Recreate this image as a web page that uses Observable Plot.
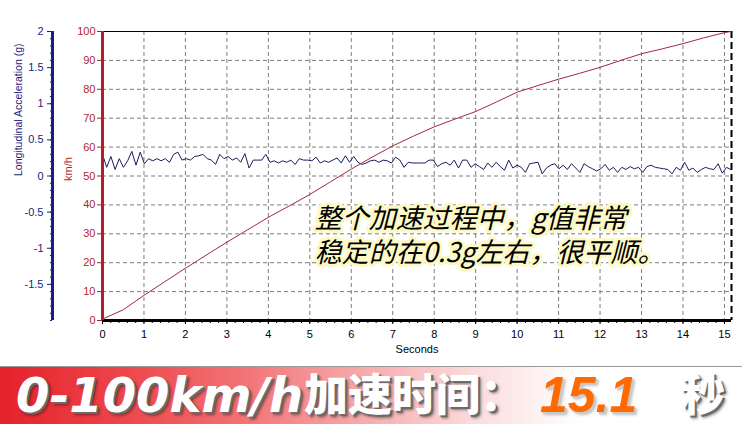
<!DOCTYPE html>
<html><head><meta charset="utf-8">
<script src="https://cdn.jsdelivr.net/npm/d3@7"></script>
<script src="https://cdn.jsdelivr.net/npm/@observablehq/plot@0.6"></script>
<style>
html,body{margin:0;padding:0;background:#fff;width:742px;height:424px;overflow:hidden}
#chart svg{display:block}
#banner{position:relative;width:742px;height:57px;border-top:1px solid #9a9a9a;
  background:linear-gradient(to right,#e4222a 0%,#ec4449 16%,#f27476 33%,#f7aeb0 50%,#fbdcdc 64%,#ffffff 78%,#ffffff 100%)}
#banner span{position:absolute;white-space:nowrap;display:block;height:50px;line-height:50px;top:3px}
#banner span.bc{top:0}
.bl{font-family:"DejaVu Sans",sans-serif;font-weight:bold;font-style:italic;font-size:48px;color:#fff;
  text-shadow:2px 2px 0 #6a6a6a,3px 3px 3px rgba(0,0,0,.45)}
.bc{font-family:"Noto Sans CJK SC",sans-serif;font-weight:900;font-size:44px;color:#fff;
  text-shadow:2px 2px 0 #6a6a6a,3px 3px 3px rgba(0,0,0,.45)}
.bv{font-family:"Liberation Sans",Arial,sans-serif;font-weight:bold;font-style:italic;font-size:50px;color:#ff6a00;
  text-shadow:2px 2px 0 #c9c9c9,3px 3px 3px rgba(0,0,0,.25)}
</style></head><body>
<div id="chart"></div>
<div id="banner"></div>
<script>
// ---- data ----
const secondTicks = [0,1,2,3,4,5,6,7,8,9,10,11,12,13,14,15];
const speedTicks = [0,10,20,30,40,50,60,70,80,90,100];
const accTicks = [-1.5,-1,-0.5,0,0.5,1,1.5,2];
const accDomain = [-2, 2];
const speedDomain = [0, 100];
const timeDomain = [0, 15.17];

const speedTime = [0,0.5,1,1.5,2,2.5,3,3.5,4,4.5,5,5.5,6,6.5,7,7.5,8,8.5,9,9.5,10,10.5,11,11.5,12,12.5,13,13.5,14,14.5,15,15.15];
const speedKmh  = [0.5,3.7,8.7,13.4,18.1,22.6,27.1,31.4,35.7,39.6,43.6,48.0,52.4,56.5,60.4,63.8,67.0,69.7,72.3,75.6,79.0,81.3,83.5,85.5,87.6,90.0,92.3,94.0,95.8,97.8,99.6,100];

const accSampleStep = 0.101; // seconds between samples
const accelG = [
  0.30,0.12,0.27,0.09,0.24,0.12,0.21,0.34,0.15,0.33,
  0.17,0.24,0.21,0.24,0.21,0.24,0.19,0.30,0.33,0.22,
  0.24,0.22,0.27,0.28,0.30,0.24,0.22,0.16,0.30,0.24,
  0.27,0.22,0.25,0.19,0.31,0.11,0.22,0.22,0.22,0.30,
  0.19,0.21,0.18,0.21,0.19,0.22,0.16,0.24,0.22,0.22,
  0.21,0.26,0.18,0.21,0.19,0.22,0.25,0.18,0.28,0.19,
  0.27,0.19,0.16,0.18,0.21,0.22,0.19,0.22,0.21,0.18,
  0.26,0.22,0.12,0.19,0.18,0.18,
  0.18,0.18,0.22,0.22,0.13,0.17,0.19,0.15,0.22,0.11,
  0.22,0.22,0.12,0.17,0.13,0.09,0.18,0.12,0.19,0.13,
  0.08,0.22,0.11,0.15,0.12,0.05,0.17,0.18,0.19,0.03,
  0.11,0.15,0.17,0.10,0.15,0.09,0.17,0.11,0.05,0.17,
  0.13,0.10,0.07,0.10,0.16,0.08,0.12,0.05,0.12,0.09,
  0.13,0.10,0.12,0.05,0.13,0.15,0.12,0.11,0.10,0.09,
  0.03,0.12,0.08,0.19,0.08,0.11,0.05,0.09,0.12,0.10,
  0.09,0.17,0.04,0.12,0.09
];

const xLabel = "Seconds";
const speedLabel = "km/h";
const accLabel = "Longitudinal Acceleration (g)";
const annotationLines = [
  {t: 5.12, v: 35.0, text: "整个加速过程中，g值非常"},
  {t: 5.12, v: 23.4, text: "稳定的在0.3g左右，很平顺。"}
];
const bannerParts = [
  {text: "0-100km/h", cls: "bl", left: 16},
  {text: "加速时间：", cls: "bc", left: 304},
  {text: "15.1", cls: "bv", left: 540},
  {text: "秒", cls: "bc", left: 681}
];

// ---- styling ----
const NAVY = "#1d1d7c", RED = "#b21f29", LINE_RED = "#a3283a", LINE_BLUE = "#1b1b5e", GRID = "#7d7d7d";

const accToY = g => (g - accDomain[0]) / (accDomain[1] - accDomain[0]) * (speedDomain[1] - speedDomain[0]) + speedDomain[0];
const yToAcc = y => (y - speedDomain[0]) / (speedDomain[1] - speedDomain[0]) * (accDomain[1] - accDomain[0]) + accDomain[0];

const speedData = speedTime.map((t, i) => ({t, v: speedKmh[i]}));
const accData = accelG.map((g, i) => ({t: i * accSampleStep, g}));
const minorSeconds = d3.range(0, 15.2, 0.2);
const minorAcc = d3.range(-20, 21, 1).map(d => d / 10);

const chart = Plot.plot({
  width: 742, height: 366,
  marginLeft: 102, marginRight: 11, marginTop: 31, marginBottom: 46,
  style: {fontFamily: "'Liberation Sans', Arial, sans-serif", fontSize: "11px", background: "#fff", overflow: "visible"},
  x: {domain: timeDomain, axis: null},
  y: {domain: speedDomain, axis: null},
  marks: [
    Plot.gridX(secondTicks.filter(d => d > 0), {stroke: GRID, strokeOpacity: 1, strokeDasharray: "4,3"}),
    Plot.gridY(speedTicks.filter(d => d > 0 && d < 100), {stroke: GRID, strokeOpacity: 1, strokeDasharray: "4,3"}),
    Plot.ruleY([speedDomain[1]], {stroke: "#000", strokeWidth: 1}),
    Plot.ruleX([timeDomain[1]], {stroke: "#000", strokeWidth: 2, strokeDasharray: "7,4"}),
    Plot.line(accData, {x: "t", y: d => accToY(d.g), stroke: LINE_BLUE, strokeWidth: 1}),
    Plot.line(speedData, {x: "t", y: "v", stroke: LINE_RED, strokeWidth: 1}),
    // x axis
    Plot.axisX({ticks: minorSeconds, tickSize: 3, tickFormat: () => "", label: null, color: "#000"}),
    Plot.axisX({ticks: secondTicks, tickSize: 4, tickPadding: 6, label: null, color: "#000"}),
    Plot.ruleY([speedDomain[0]], {stroke: "#000", strokeWidth: 3}),
    Plot.text([xLabel], {frameAnchor: "bottom", dy: 32, fill: "#000", fontSize: 11}),
    // speed axis
    Plot.axisY({ticks: speedTicks, tickSize: 5, tickPadding: 2, label: null, color: RED}),
    Plot.ruleX([timeDomain[0]], {stroke: RED, strokeWidth: 3}),
    Plot.text([speedLabel], {frameAnchor: "left", rotate: -90, dx: -34, dy: 5, fill: RED, fontSize: 11}),
    // acceleration axis
    Plot.axisY({ticks: minorAcc.map(accToY), tickSize: 2, tickFormat: () => "", label: null, color: NAVY, dx: -50}),
    Plot.axisY({ticks: accTicks.map(accToY), tickSize: 5, tickPadding: 4, label: null, color: NAVY, dx: -50,
      tickFormat: v => String(+yToAcc(v).toFixed(2))}),
    Plot.ruleX([timeDomain[0]], {stroke: NAVY, strokeWidth: 3, dx: -50}),
    Plot.text([accLabel], {frameAnchor: "left", rotate: -90, dx: -84, fill: NAVY, fontSize: 10.5}),
    // annotation
    Plot.text(annotationLines, {x: "t", y: "v", text: "text", textAnchor: "start", lineAnchor: "middle",
      fontSize: 27, fontFamily: "'Noto Sans CJK SC', sans-serif", fontStyle: "italic", fill: "#000",
      stroke: "#fdf9c4", strokeWidth: 6, strokeLinejoin: "round"})
  ]
});
document.getElementById("chart").appendChild(chart);

const banner = document.getElementById("banner");
for (const p of bannerParts) {
  const s = document.createElement("span");
  s.className = p.cls;
  s.textContent = p.text;
  s.style.left = p.left + "px";
  banner.appendChild(s);
}
</script>
</body></html>
